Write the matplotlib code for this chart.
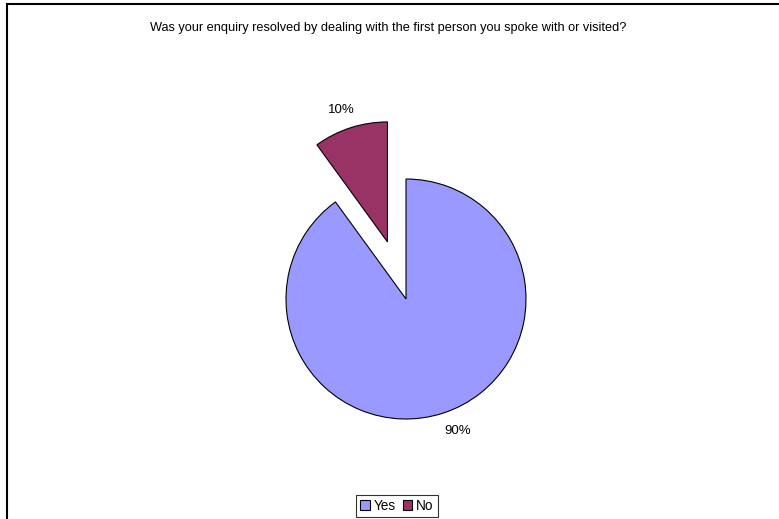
import matplotlib.pyplot as plt
from matplotlib.lines import Line2D

plt.rcParams['font.family'] = ['Liberation Sans', 'DejaVu Sans']

# Survey answers
labels = ["Yes", "No"]
shares = [90, 10]
colors = ["#9999FF", "#993366"]
explode = [0, 0.5]

W, H = 779, 519
fig = plt.figure(figsize=(W / 100, H / 100), dpi=100)

# pie centred around (406, 299) px, radius ~120 px
r_px = 120
half = 1.3 * r_px
cx, cy = 406, 299
ax = fig.add_axes([(cx - half) / W, (H - cy - half) / H, 2 * half / W, 2 * half / H])
wedges, texts = ax.pie(shares, colors=colors, explode=explode, startangle=90,
                       counterclock=False, labels=[f"{s}%" for s in shares],
                       labeldistance=1.16,
                       wedgeprops=dict(edgecolor="black", linewidth=0.8),
                       textprops=dict(fontsize=9.5, color="black"))
for t in texts:
    t.set_horizontalalignment("center")
    t.set_verticalalignment("center")
# nudge the labels a little
texts[0].set_x(texts[0].get_position()[0] + 0.07)
texts[1].set_x(texts[1].get_position()[0] - 0.03)
ax.set_xlim(-1.3, 1.3)
ax.set_ylim(-1.3, 1.3)
ax.set_aspect("equal")
ax.axis("off")

fig.text(388 / W, 1 - 28 / H,
         "Was your enquiry resolved by dealing with the first person you spoke with or visited?",
         ha="center", va="center", fontsize=9.2)

leg = fig.legend(wedges, labels, loc="center", bbox_to_anchor=(397 / W, 1 - 506 / H),
                 ncol=2, fontsize=9.8, frameon=True, fancybox=False,
                 handlelength=0.7, handleheight=0.7, handletextpad=0.3,
                 columnspacing=0.5, borderpad=0.3, borderaxespad=0)
leg.get_frame().set_edgecolor("black")
leg.get_frame().set_linewidth(0.8)

# outer chart border (left and top edges)
fig.add_artist(Line2D([6.5 / W, 6.5 / W], [0, 1 - 4 / H], transform=fig.transFigure,
                      color="black", linewidth=1.5))
fig.add_artist(Line2D([6.5 / W, 1], [1 - 4 / H, 1 - 4 / H], transform=fig.transFigure,
                      color="black", linewidth=1.5))

fig.savefig("out.png", dpi=100)
